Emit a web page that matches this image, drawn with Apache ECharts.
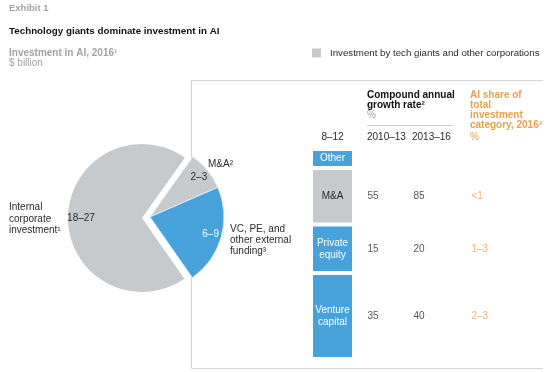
<!DOCTYPE html>
<html><head><meta charset="utf-8">
<script src="https://cdn.jsdelivr.net/npm/echarts@6/dist/echarts.min.js"></script>
<style>html,body{margin:0;padding:0;background:#fff}#c{width:553px;height:372px}</style>
</head><body><div id="c"></div>
<script>
// ---- data ----
const pieNames = ['M&A²', 'VC, PE, and\nother external\nfunding³', 'Internal\ncorporate\ninvestment¹'];
const pieValues = [2.8, 7.1, 22.6];
const pieRanges = ['2–3', '6–9', '18–27'];

const barCategories = ['Venture\ncapital', 'Private\nequity', 'M&A', 'Other']; // bottom to top
const barValues = [4.1, 2.3, 2.7, 0.9];
const barTotalLabel = ['8–12'];

const tableHeaders = ['2010–13', '2013–16'];
const cagr2010to13 = ['35', '15', '55', null];
const cagr2013to16 = ['40', '20', '85', null];
const aiShare2016 = ['2–3', '1–3', '<1', null];

const legendName = 'Investment by tech giants and other corporations';

// ---- styles ----
const FONT = '"Liberation Sans", Arial, sans-serif';
const GRAY = '#c7cacd';
const BLUE = '#47a1da';
const ORANGE = '#e9a052';
const DARK = '#2a2a2a';
const LIGHT = '#a3a3a3';

const chart = echarts.init(document.getElementById('c'), null, {renderer: 'canvas'});

function radialLayout(cx, cy, R) {
  return function (p) {
    const r = p.labelRect;
    const lx = r.x + r.width / 2, ly = r.y + r.height / 2;
    const d = Math.hypot(lx - cx, ly - cy) || 1;
    return {x: cx + (lx - cx) * R / d, y: cy + (ly - cy) * R / d, align: 'center', verticalAlign: 'middle'};
  };
}

function txt(x, y, text, o) {
  o = o || {};
  return {type: 'text', x: x, y: y, z: 10, silent: true, style: {
    text: text, font: (o.weight || 'normal') + ' ' + (o.size || 10) + 'px ' + FONT,
    fill: o.color || DARK, textAlign: o.align || 'left', textVerticalAlign: o.va || 'middle',
    lineHeight: o.lh || 11
  }};
}

// cumulative mid positions of stacked segments
let acc = 0;
const mids = barValues.map(v => { const m = acc + v / 2; acc += v; return m; });
const total = acc;

const tableCols = [cagr2010to13, cagr2013to16, aiShare2016];
const tableOffsets = [35, 81, 139];
const tableColors = [DARK, DARK, ORANGE];

const series = [];
// big slice (internal)
series.push({
  type: 'pie', center: [142, 218], radius: [0, 74], startAngle: 54.6, clockwise: true,
  silent: true, animation: false, avoidLabelOverlap: false, z: 2,
  data: pieValues.map((v, i) => ({name: pieNames[i], value: v,
    itemStyle: {color: i === 2 ? GRAY : 'rgba(0,0,0,0)'}, label: {show: i === 2}})),
  label: {position: 'inside', formatter: p => pieRanges[p.dataIndex], color: DARK, fontSize: 10, fontFamily: FONT},
  labelLine: {show: false},
  labelLayout: radialLayout(142, 218, 61)
});
// exploded slices (M&A and VC)
series.push({
  type: 'pie', center: [150, 217], radius: [0, 74], startAngle: 54.6, clockwise: true,
  silent: true, animation: false, avoidLabelOverlap: false, z: 3,
  data: pieValues.map((v, i) => ({name: pieNames[i], value: v,
    itemStyle: i === 2 ? {color: 'rgba(0,0,0,0)', borderWidth: 0}
      : {color: i === 0 ? GRAY : BLUE, borderColor: '#e6f1f9', borderWidth: 0.8},
    label: {show: i !== 2, color: i === 1 ? '#fff' : DARK}})),
  label: {position: 'inside', formatter: p => pieRanges[p.dataIndex], fontSize: 10, fontFamily: FONT},
  labelLine: {show: false},
  labelLayout: radialLayout(150, 217, 63)
});
// stacked bar
barCategories.forEach((name, i) => {
  series.push({
    type: 'bar', name: name, stack: 'total', barWidth: '100%', animation: false, silent: true,
    data: [barValues[i]],
    itemStyle: {color: name === 'M&A' ? GRAY : BLUE, borderColor: '#fff', borderWidth: 2},
    label: {show: true, position: 'inside', formatter: '{a}', color: name === 'M&A' ? DARK : '#fff',
      fontSize: 10, lineHeight: 12, fontFamily: FONT}
  });
});
// table values
tableCols.forEach((col, c) => {
  series.push({
    type: 'scatter', symbolSize: 1, itemStyle: {color: 'rgba(0,0,0,0)'}, silent: true, animation: false,
    data: mids.map((m, i) => ({value: [0, m], name: col[i]})).filter(d => d.name != null),
    label: {show: true, position: 'inside', align: 'left', verticalAlign: 'middle', offset: [tableOffsets[c], 0],
      formatter: '{b}', color: tableColors[c], fontSize: 10, fontFamily: FONT}
  });
});
// legend entry
series.push({type: 'line', name: legendName, data: [], itemStyle: {color: GRAY}, lineStyle: {color: GRAY}});

const graphic = [
  {type: 'polyline', z: 0, silent: true, shape: {points: [[543, 80.5], [191.5, 80.5], [191.5, 368.5], [543, 368.5]]},
    style: {stroke: '#d4d4d4', lineWidth: 1, fill: null}},
  {type: 'line', z: 0, silent: true, shape: {x1: 367, y1: 125.5, x2: 453, y2: 125.5}, style: {stroke: '#cfcfcf', lineWidth: 1}},
  txt(9, 8.5, 'Exhibit 1', {weight: 'bold', size: 9.5, color: LIGHT}),
  txt(9, 31, 'Technology giants dominate investment in AI', {weight: 'bold', size: 9.8, color: '#111'}),
  txt(9, 53, 'Investment in AI, 2016¹', {weight: 'bold', size: 10, color: LIGHT}),
  txt(9, 63.5, '$ billion', {size: 10, color: LIGHT}),
  txt(9, 201.5, pieNames[2], {size: 10, va: 'top', lh: 11.5}),
  txt(208, 164, pieNames[0], {size: 10}),
  txt(230, 223.5, pieNames[1], {size: 10, va: 'top', lh: 11}),
  txt(367, 95, 'Compound annual', {weight: 'bold', size: 10, color: '#111'}),
  txt(367, 105, 'growth rate²', {weight: 'bold', size: 10, color: '#111'}),
  txt(367, 115, '%', {size: 10, color: LIGHT}),
  txt(367, 137, tableHeaders[0], {size: 10}),
  txt(412, 137, tableHeaders[1], {size: 10}),
  txt(470, 90, 'AI share of\ntotal\ninvestment\ncategory, 2016³', {weight: 'bold', size: 10, color: ORANGE, va: 'top', lh: 10.2}),
  txt(470, 137, '%', {size: 10, color: ORANGE})
];

chart.setOption({
  animation: false,
  textStyle: {fontFamily: FONT},
  legend: {left: 312, top: 48, padding: 0, itemWidth: 9, itemHeight: 9, icon: 'rect', selectedMode: false,
    data: [legendName], textStyle: {fontSize: 9.7, color: DARK, fontFamily: FONT, padding: [0, 0, 0, 4]}},
  grid: {left: 311, width: 43, top: 149, bottom: 13, containLabel: false},
  xAxis: {type: 'category', data: barTotalLabel, position: 'top',
    axisLine: {show: false}, axisTick: {show: false},
    axisLabel: {color: DARK, fontSize: 10, margin: 7, fontFamily: FONT}},
  yAxis: {type: 'value', min: 0, max: total, show: false, splitLine: {show: false}},
  graphic: graphic,
  series: series
});
</script>
</body></html>
